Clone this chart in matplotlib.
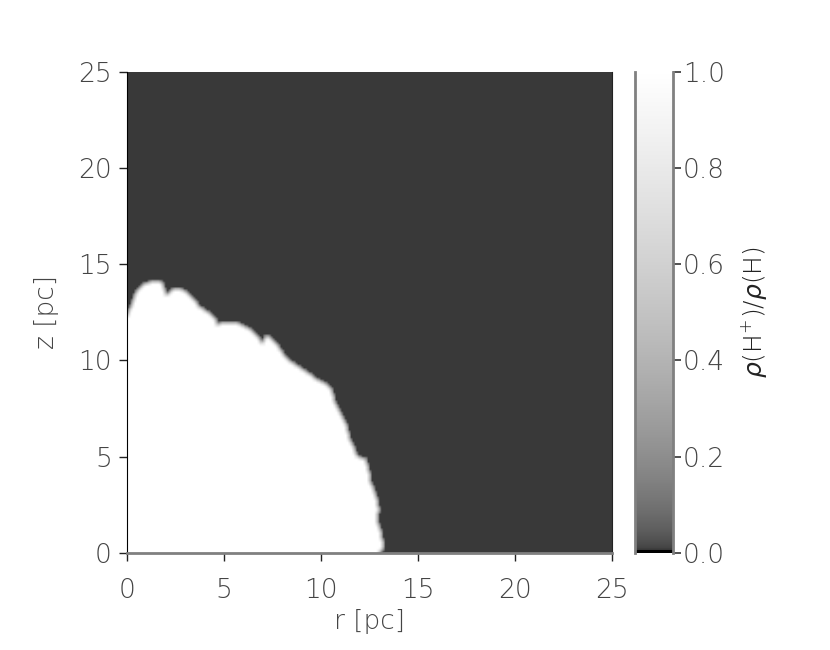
import numpy as np
import matplotlib
matplotlib.use("Agg")
import matplotlib.pyplot as plt
from matplotlib.path import Path
from matplotlib.colors import ListedColormap
from matplotlib import font_manager

# ionisation front outline (r, z) in pc
front_r = [0.00, 0.50, 0.93, 1.27, 1.70, 1.87, 1.96, 2.30, 2.56, 2.99, 3.34, 3.76,
           4.19, 4.54, 4.62, 4.96, 5.57, 5.99, 6.43, 6.77, 6.94, 7.20, 7.54, 7.89,
           8.23, 8.75, 9.26, 9.78, 10.29, 10.55, 10.63, 10.89, 11.15, 11.32, 11.41,
           11.66, 11.84, 12.27, 12.44, 12.53, 12.70, 12.87, 12.95, 12.87, 13.04,
           13.13, 13.21, 12.95]
front_z = [12.20, 13.50, 13.93, 14.05, 14.05, 13.84, 13.32, 13.58, 13.71, 13.58, 13.24,
           12.72, 12.46, 12.11, 11.76, 11.94, 11.94, 11.76, 11.50, 11.16, 10.81, 11.24,
           10.98, 10.55, 10.03, 9.68, 9.34, 8.99, 8.73, 8.47, 7.95, 7.43, 6.91, 6.56,
           6.04, 5.52, 5.01, 4.83, 4.31, 3.62, 3.27, 2.75, 2.23, 1.72, 1.20, 0.68,
           0.33, 0.00]

ion_inside = 1.0     # fully ionised
ion_outside = 0.006  # neutral gas
box = 25.0
ncell = 256

ticks = [0, 5, 10, 15, 20, 25]
cb_ticks = [0.0, 0.2, 0.4, 0.6, 0.8, 1.0]

# build the grid from the outline
verts = list(zip(front_r, front_z)) + [(0.0, 0.0)]
poly = Path(verts)
c = (np.arange(ncell) + 0.5) * box / ncell
rr, zz = np.meshgrid(c, c)
inside = poly.contains_points(np.column_stack([rr.ravel(), zz.ravel()])).reshape(rr.shape)
field = np.where(inside, ion_inside, ion_outside)
# soften the front a little (box average)
pad = np.pad(field, 1, mode="edge")
field = sum(pad[1 + dy:1 + dy + ncell, 1 + dx:1 + dx + ncell]
            for dy in (-1, 0, 1) for dx in (-1, 0, 1)) / 9.0

# grey table: black only at the very bottom, then a sqrt ramp from dark grey
v = np.linspace(0, 1, 512)
g = np.where(v < 0.005, 0.0, 0.2 + 0.8 * np.sqrt(np.clip(v - 0.005, 0, None) / 0.995))
cmap = ListedColormap(np.column_stack([g, g, g, np.ones_like(g)]))

# thin, wide font if one is around
fam, wt = ["DejaVu Sans"], "normal"
for cand, w in [("DejaVu Sans", 200), ("Roboto", "light"), ("Open Sans", "light"), ("Lato", "light")]:
    try:
        f = font_manager.findfont(font_manager.FontProperties(family=cand, weight=w),
                                  fallback_to_default=False)
        if "light" in f.lower():
            fam, wt = [cand, "DejaVu Sans"], w
            break
    except Exception:
        pass
plt.rcParams["font.family"] = fam
plt.rcParams["font.weight"] = wt
plt.rcParams["axes.labelweight"] = wt
plt.rcParams["mathtext.fontset"] = "dejavusans"

txt = "#444444"

fig = plt.figure(figsize=(8.3, 6.5), dpi=100)
ax = fig.add_axes([0.153, 0.149, 0.584, 0.741])
im = ax.imshow(field, origin="lower", extent=[0, box, 0, box], cmap=cmap,
               vmin=0, vmax=1, interpolation="bilinear", aspect="auto")

ax.set_xlim(0, box)
ax.set_ylim(0, box)
ax.set_xticks(ticks)
ax.set_yticks(ticks)
ax.tick_params(direction="out", length=6, width=1, color="#222222",
               labelcolor=txt, labelsize=19)
ax.tick_params(axis="x", pad=12)
ax.tick_params(axis="y", pad=5)
ax.spines["left"].set_color("black")
ax.spines["bottom"].set_color("#808080")
ax.spines["bottom"].set_linewidth(2)
ax.spines["top"].set_visible(False)
ax.spines["right"].set_color("#222222")
ax.set_xlabel("r [pc]", fontsize=19, color=txt, fontweight=wt, labelpad=4)
ax.set_ylabel("z [pc]", fontsize=19, color=txt, fontweight=wt, labelpad=14)

cax = fig.add_axes([0.765, 0.149, 0.046, 0.741])
cb = fig.colorbar(im, cax=cax, ticks=cb_ticks)
cb.ax.set_yticklabels([f"{t:.1f}" for t in cb_ticks])
cb.outline.set_visible(False)
for xe in (0, 1):
    cax.plot([xe, xe], [0, 1], transform=cax.transAxes, color="#808080",
             lw=2, clip_on=False)
cb.ax.tick_params(direction="out", length=6, width=1.2, color="#333333",
                  labelcolor=txt, labelsize=19, pad=1)
cb.set_label(r"$\rho$(H$^{+}$)/$\rho$(H)", fontsize=18, color="#222222",
             fontweight=wt, labelpad=10)

fig.savefig("out.png", dpi=100)
